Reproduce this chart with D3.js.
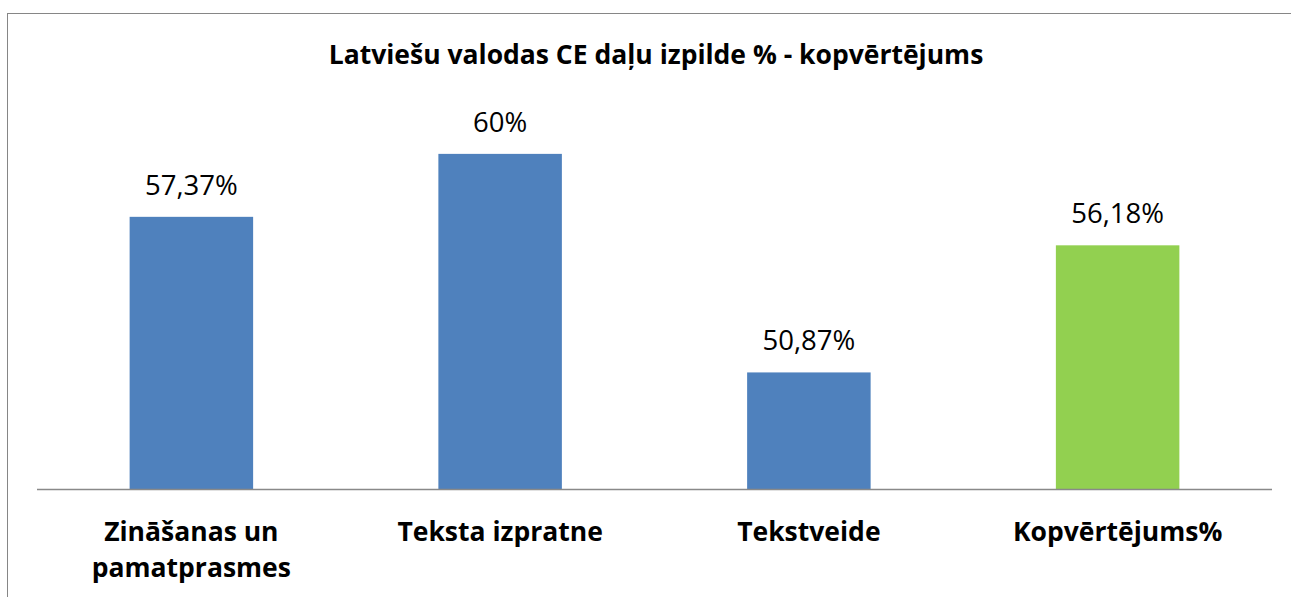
<!DOCTYPE html>
<meta charset="utf-8">
<style>
body { margin: 0; background: #fff; }
svg { display: block; font-family: 'Open Sans', sans-serif; }
.title { font-weight: 700; font-size: 26.5px; }
.value { font-size: 27.5px; }
.cat { font-weight: 700; font-size: 26.5px; }
</style>
<body>
<svg width="1291" height="597"></svg>
<script src="https://cdn.jsdelivr.net/npm/d3@7"></script>
<script>

var categories = ["Zināšanas un pamatprasmes", "Teksta izpratne", "Tekstveide", "Kopvērtējums%"];
var values = [57.37, 60, 50.87, 56.18];
var labels = ["57,37%", "60%", "50,87%", "56,18%"];
var colors = ["#4F81BD", "#4F81BD", "#4F81BD", "#92D050"];
var catLines = [["Zināšanas un", "pamatprasmes"], ["Teksta izpratne"], ["Tekstveide"], ["Kopvērtējums%"]];

var svg = d3.select("svg");

// chart frame
svg.append("rect")
    .attr("x", 7.5).attr("y", 13.5)
    .attr("width", 1300).attr("height", 620)
    .attr("fill", "none")
    .attr("stroke", "#868686")
    .attr("stroke-width", 1);

var x = d3.scaleBand()
    .domain(categories)
    .range([37, 1272])
    .paddingInner(0.6)
    .paddingOuter(0.3);

var y = d3.scaleLinear()
    .domain([46, 62])
    .range([489, 106]);

svg.append("text")
    .attr("class", "title")
    .attr("x", 656).attr("y", 64)
    .attr("text-anchor", "middle")
    .text("Latviešu valodas CE daļu izpilde % - kopvērtējums");

svg.selectAll(".bar")
    .data(values)
    .enter().append("rect")
    .attr("class", "bar")
    .attr("x", function(d, i) { return x(categories[i]); })
    .attr("y", function(d) { return y(d); })
    .attr("width", x.bandwidth())
    .attr("height", function(d) { return y(46) - y(d); })
    .attr("fill", function(d, i) { return colors[i]; });

svg.selectAll(".value")
    .data(values)
    .enter().append("text")
    .attr("class", "value")
    .attr("x", function(d, i) { return x(categories[i]) + x.bandwidth() / 2; })
    .attr("y", function(d) { return y(d) - 22; })
    .attr("text-anchor", "middle")
    .text(function(d, i) { return labels[i]; });

// x axis line
svg.append("line")
    .attr("x1", 37).attr("x2", 1272)
    .attr("y1", 489.5).attr("y2", 489.5)
    .attr("stroke", "#898989")
    .attr("stroke-width", 1.5);

var cats = svg.selectAll(".cat")
    .data(catLines)
    .enter().append("text")
    .attr("class", "cat")
    .attr("text-anchor", "middle")
    .attr("x", function(d, i) { return x(categories[i]) + x.bandwidth() / 2; })
    .attr("y", 541);

cats.selectAll("tspan")
    .data(function(d) { return d; })
    .enter().append("tspan")
    .attr("x", function() { return d3.select(this.parentNode).attr("x"); })
    .attr("dy", function(d, i) { return i ? 36 : 0; })
    .text(function(d) { return d; });

</script>
</body>
